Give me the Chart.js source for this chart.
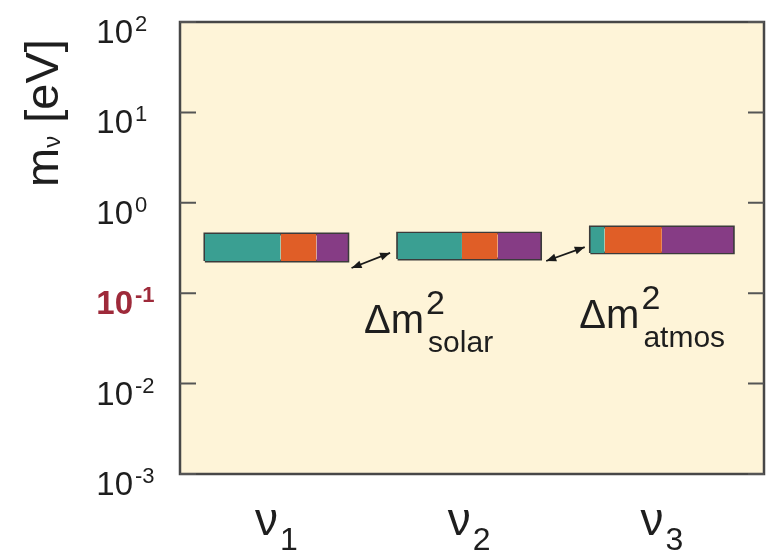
<!DOCTYPE html>
<html>
<head>
<meta charset="utf-8">
<script src="https://cdn.jsdelivr.net/npm/chart.js@4.4.1/dist/chart.umd.min.js"></script>
<style>
  html, body { margin: 0; padding: 0; background: #fff; }
  #wrap { width: 767px; height: 551px; position: relative; }
</style>
</head>
<body>
<div id="wrap"><canvas id="myChart"></canvas></div>
<script>
// datos
const neutrinos = ['1', '2', '3'];            // subindices de nu
const massLow  = [0.227, 0.239, 0.279];      // eV, borde inferior de cada caja
const massHigh = [0.452, 0.463, 0.540];      // eV, borde superior
const flavorE   = [0.53, 0.45, 0.10];        // fraccion teal
const flavorMu  = [0.25, 0.25, 0.40];        // fraccion naranja
const flavorTau = [0.22, 0.30, 0.50];        // fraccion morada
const tickExponents = [2, 1, 0, -1, -2, -3];
const highlightExp = -1;
// flechas entre cajas (x en unidades de categoria, y en eV)
const arrowFrom = [[0.89, 0.19], [1.90, 0.227]];
const arrowTo   = [[1.09, 0.279], [2.10, 0.324]];
const splitLabels = ['solar', 'atmos'];
const splitPos = [[0.955, 0.0363], [2.072, 0.0412]];

const flavorColors = ['#3a9f92', '#e05e27', '#863c85'];
const FONT = '"Liberation Sans", Arial, sans-serif';
const halfW = 0.371;

const datasets = [];
neutrinos.forEach((n, i) => {
    const x0 = i + 0.5 - halfW, w = 2 * halfW;
    const fr = [flavorE[i], flavorMu[i], flavorTau[i]];
    let acc = 0;
    fr.forEach((f, k) => {
        const xs = x0 + acc * w;
        acc += f;
        const xe = x0 + acc * w;
        datasets.push({
            data: [{x: xs, y: massHigh[i]}, {x: xe, y: massHigh[i]}],
            fill: {value: massLow[i]},
            backgroundColor: flavorColors[k],
            borderColor: 'rgba(0,0,0,0)',
            pointRadius: 0
        });
    });
    // contorno de la caja
    const x1 = x0 + w;
    datasets.push({
        data: [
            {x: x0, y: massLow[i]}, {x: x1, y: massLow[i]},
            {x: x1, y: massHigh[i]}, {x: x0, y: massHigh[i]},
            {x: x0, y: massLow[i]}
        ],
        fill: false,
        borderColor: '#3b3b3b',
        borderWidth: 2.8,
        pointRadius: 0
    });
});

function drawArrowHead(ctx, fx, fy, tx, ty) {
    const a = Math.atan2(ty - fy, tx - fx);
    const L = 10, H = 4;
    ctx.beginPath();
    ctx.moveTo(tx, ty);
    ctx.lineTo(tx - L * Math.cos(a) + H * Math.sin(a), ty - L * Math.sin(a) - H * Math.cos(a));
    ctx.lineTo(tx - L * Math.cos(a) - H * Math.sin(a), ty - L * Math.sin(a) + H * Math.cos(a));
    ctx.closePath();
    ctx.fill();
}

const decoPlugin = {
    id: 'deco',
    beforeDraw(chart) {
        const {ctx, chartArea: a} = chart;
        ctx.save();
        ctx.fillStyle = '#fef4d8';
        ctx.fillRect(a.left, a.top, a.right - a.left, a.bottom - a.top);
        ctx.restore();
    },
    afterDraw(chart) {
        const {ctx, chartArea: a, scales} = chart;
        const xs = scales.x, ys = scales.y;
        ctx.save();

        // flechas
        ctx.strokeStyle = '#1a1a1a';
        ctx.fillStyle = '#1a1a1a';
        ctx.lineWidth = 1.8;
        arrowFrom.forEach((p, i) => {
            const fx = xs.getPixelForValue(p[0]), fy = ys.getPixelForValue(p[1]);
            const tx = xs.getPixelForValue(arrowTo[i][0]), ty = ys.getPixelForValue(arrowTo[i][1]);
            ctx.beginPath();
            ctx.moveTo(fx, fy);
            ctx.lineTo(tx, ty);
            ctx.stroke();
            drawArrowHead(ctx, fx, fy, tx, ty);
            drawArrowHead(ctx, tx, ty, fx, fy);
        });

        // marco
        ctx.strokeStyle = '#474747';
        ctx.lineWidth = 2.5;
        ctx.strokeRect(a.left, a.top, a.right - a.left, a.bottom - a.top);

        // marcas y etiquetas del eje y
        ctx.strokeStyle = '#555';
        ctx.lineWidth = 2;
        ctx.textBaseline = 'alphabetic';
        tickExponents.forEach(e => {
            const y = ys.getPixelForValue(Math.pow(10, e));
            ctx.beginPath();
            ctx.moveTo(a.left, y); ctx.lineTo(a.left + 16, y);
            ctx.moveTo(a.right - 16, y); ctx.lineTo(a.right, y);
            ctx.stroke();
            const hl = e === highlightExp;
            ctx.fillStyle = hl ? '#9e2a3a' : '#1e1e1e';
            ctx.font = (hl ? 'bold ' : '') + '33px ' + FONT;
            ctx.textAlign = 'right';
            ctx.fillText('10', 133, y + 21);
            ctx.font = (hl ? 'bold ' : '') + '22px ' + FONT;
            ctx.textAlign = 'left';
            ctx.fillText(String(e), 135, y + 9);
        });

        // titulo del eje y
        ctx.fillStyle = '#1e1e1e';
        ctx.translate(58, 187);
        ctx.rotate(-Math.PI / 2);
        ctx.textAlign = 'left';
        ctx.font = '47px ' + FONT;
        ctx.fillText('m', 0, 0);
        let w = ctx.measureText('m').width;
        ctx.font = '24px ' + FONT;
        ctx.fillText('ν', w, 2);
        w += ctx.measureText('ν').width;
        ctx.font = '47px ' + FONT;
        ctx.fillText(' [eV]', w, 0);
        ctx.setTransform(1, 0, 0, 1, 0, 0);

        // etiquetas del eje x
        neutrinos.forEach((n, i) => {
            const cx = xs.getPixelForValue(i + 0.5);
            ctx.font = '46px ' + FONT;
            const w1 = ctx.measureText('ν').width;
            ctx.font = '32px ' + FONT;
            const w2 = ctx.measureText(n).width;
            const left = cx - (w1 + w2 + 2) / 2;
            ctx.font = '46px ' + FONT;
            ctx.fillText('ν', left, 535);
            ctx.font = '32px ' + FONT;
            ctx.fillText(n, left + w1 + 2, 550);
        });

        // etiquetas delta m^2
        splitLabels.forEach((s, i) => {
            const px = xs.getPixelForValue(splitPos[i][0]);
            const py = ys.getPixelForValue(splitPos[i][1]);
            ctx.font = '40px ' + FONT;
            ctx.fillText('Δm', px, py);
            const wd = ctx.measureText('Δm').width;
            ctx.font = '34px ' + FONT;
            ctx.fillText('2', px + wd + 2, py - 19);
            ctx.font = '30px ' + FONT;
            ctx.fillText(s, px + wd + 4, py + 19);
        });
        ctx.restore();
    }
};

new Chart(document.getElementById('myChart'), {
    type: 'line',
    data: { datasets: datasets },
    options: {
        responsive: true,
        maintainAspectRatio: false,
        animation: false,
        layout: { padding: { left: 180, top: 22, right: 3, bottom: 77 } },
        scales: {
            x: { type: 'linear', min: 0, max: 3.03, display: false },
            y: { type: 'logarithmic', min: 0.001, max: 100, display: false }
        },
        plugins: {
            legend: { display: false },
            tooltip: { enabled: false }
        }
    },
    plugins: [decoPlugin]
});
</script>
</body>
</html>
